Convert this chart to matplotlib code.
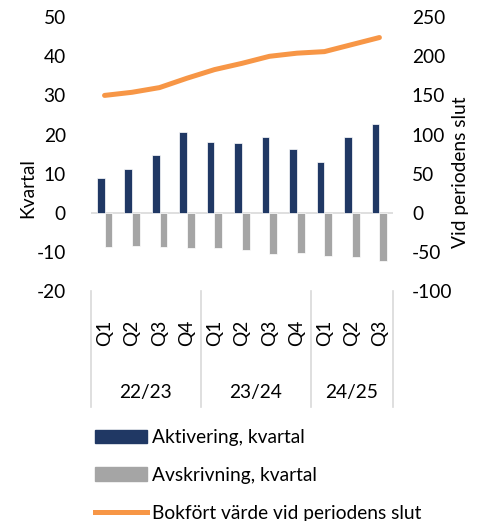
import matplotlib
matplotlib.use("Agg")
import matplotlib.pyplot as plt
import numpy as np
from matplotlib.patches import Patch
from matplotlib.lines import Line2D

plt.rcParams['font.family'] = ['Lato', 'DejaVu Sans']
plt.rcParams['font.size'] = 13.8
plt.rcParams['axes.unicode_minus'] = False

quarters = ['Q1', 'Q2', 'Q3', 'Q4', 'Q1', 'Q2', 'Q3', 'Q4', 'Q1', 'Q2', 'Q3']
years = ['22/23', '23/24', '24/25']
year_len = [4, 4, 3]
aktivering = [8.9, 11.3, 14.7, 20.6, 18.0, 17.9, 19.3, 16.3, 12.9, 19.4, 22.8]
avskrivning = [-8.8, -8.4, -8.8, -8.9, -9.1, -9.6, -10.5, -10.2, -11.1, -11.4, -12.4]
bokfort = [150, 154, 160, 172, 183, 191, 200, 204, 206, 215, 224]

navy = '#203864'
grey = '#A5A5A5'
orange = '#F79646'

fig = plt.figure(figsize=(4.83, 5.21), dpi=100)
ax = fig.add_axes([0.188, 0.4415, 0.626, 0.5255])
ax2 = ax.twinx()

x = np.arange(len(quarters))
w = 0.28
ax.bar(x - w/2, aktivering, w, color=navy, edgecolor='white', linewidth=0.5, zorder=3)
ax.bar(x + w/2, avskrivning, w, color=grey, edgecolor='white', linewidth=0.5, zorder=3)
ax.axhline(0, color='#D9D9D9', lw=1.2, zorder=2)
ax2.plot(x, bokfort, color=orange, lw=3.6, solid_capstyle='round')

ax.set_xlim(-0.5, len(quarters) - 0.5)
ax.set_ylim(-20, 50)
ax.set_yticks(range(-20, 51, 10))
ax2.set_ylim(-100, 250)
ax2.set_yticks(range(-100, 251, 50))

for a in (ax, ax2):
    for s in a.spines.values():
        s.set_visible(False)
ax.tick_params(axis='y', length=0, pad=18)
ax2.tick_params(axis='y', length=0, pad=13.5)
ax.set_xticks([])

ax.set_ylabel('Kvartal')
ax.yaxis.set_label_coords(-0.18, 0.375)
ax2.set_ylabel('Vid periodens slut', rotation=90)
ax2.yaxis.set_label_coords(1.193, 0.435)

trans = ax.get_xaxis_transform()
for i, q in enumerate(quarters):
    ax.text(i, -0.153, q, rotation=90, ha='center', va='center', transform=trans)

start = 0
bounds = [-0.5]
for y, n in zip(years, year_len):
    ax.text(start + (n - 1) / 2, -0.372, y, ha='center', va='center', transform=trans)
    start += n
    bounds.append(start - 0.5)
for b in bounds:
    ax.plot([b, b], [0, -0.423], color='#D9D9D9', lw=1.2, transform=trans, clip_on=False)

handles = [Patch(color=navy), Patch(color=grey), Line2D([], [], color=orange, lw=3.6)]
labels = ['Aktivering, kvartal', 'Avskrivning, kvartal', 'Bokfört värde vid periodens slut']
fig.legend(handles, labels, loc='upper left', bbox_to_anchor=(95/483, 1 - 429/521),
           frameon=False, borderpad=0, borderaxespad=0, handlelength=2.7,
           handletextpad=0.25, labelspacing=1.09)

fig.savefig('out.png', dpi=100)
